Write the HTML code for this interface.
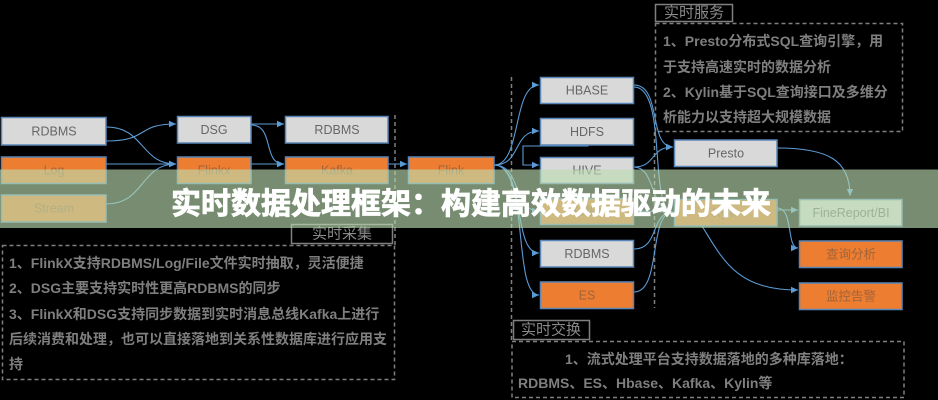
<!DOCTYPE html>
<html><head><meta charset="utf-8"><style>
html,body{margin:0;padding:0;background:#000;width:938px;height:400px;overflow:hidden}
svg{display:block}
text{font-family:"Liberation Sans","Noto Sans CJK SC",sans-serif}
.bx{font-size:12.5px;fill:#666}
.bo{font-size:12.5px;fill:#a0643a}
.d{font-size:14px;font-weight:bold;fill:#7f7f7f}
.lb{font-size:15px;fill:#8a8a8a}
</style></head><body>
<svg width="938" height="400" viewBox="0 0 938 400" xmlns="http://www.w3.org/2000/svg">
<defs>
<marker id="a" markerWidth="8" markerHeight="8" refX="7" refY="4" orient="auto" markerUnits="userSpaceOnUse">
<path d="M0,0.8 L7,4 L0,7.2 Z" fill="#5b9bd5"/></marker>
</defs>
<rect width="938" height="400" fill="#000"/>

<!-- dashed boxes & separators -->
<g fill="none" stroke="#7f7f7f" stroke-width="1.5" stroke-dasharray="4 3">
<rect x="655.5" y="23.5" width="247" height="108"/>
<rect x="2.5" y="245.5" width="392" height="134"/>
<rect x="512" y="341.5" width="392" height="56"/>
<line x1="395" y1="115" x2="395" y2="246"/>
<line x1="511.5" y1="77" x2="511.5" y2="342"/>
<line x1="654.5" y1="132" x2="654.5" y2="308"/>
</g>
<g fill="none" stroke="#7f7f7f" stroke-width="1.5">
<rect x="655.5" y="4.5" width="77" height="17"/>
<rect x="291.5" y="224.5" width="101" height="19"/>
<rect x="513.5" y="320.5" width="76" height="19"/>
</g>
<text class="lb" x="694" y="13" text-anchor="middle" dominant-baseline="central">实时服务</text>
<text class="lb" x="342" y="234" text-anchor="middle" dominant-baseline="central">实时采集</text>
<text class="lb" x="551" y="330" text-anchor="middle" dominant-baseline="central">实时交换</text>

<g class="d" dominant-baseline="central">
<text class="d" x="663" y="41" dominant-baseline="central">1、Presto分布式SQL查询引擎，用</text>
<text class="d" x="663" y="67" dominant-baseline="central">于支持高速实时的数据分析</text>
<text class="d" x="663" y="92" dominant-baseline="central">2、Kylin基于SQL查询接口及多维分</text>
<text class="d" x="663" y="117" dominant-baseline="central">析能力以支持超大规模数据</text>

<text class="d" x="9" y="263" dominant-baseline="central">1、FlinkX支持RDBMS/Log/File文件实时抽取，灵活便捷</text>
<text class="d" x="9" y="288" dominant-baseline="central">2、DSG主要支持实时性更高RDBMS的同步</text>
<text class="d" x="9" y="314" dominant-baseline="central">3、FlinkX和DSG支持同步数据到实时消息总线Kafka上进行</text>
<text class="d" x="9" y="339" dominant-baseline="central">后续消费和处理，也可以直接落地到关系性数据库进行应用支</text>
<text class="d" x="9" y="364" dominant-baseline="central">持</text>

<text class="d" x="565" y="359" dominant-baseline="central">1、流式处理平台支持数据落地的多种库落地：</text>
<text class="d" x="518" y="383" dominant-baseline="central">RDBMS、ES、Hbase、Kafka、Kylin等</text>
</g>

<!-- connectors -->
<g fill="none" stroke="#5b9bd5" stroke-width="1.1">
<path d="M106,127 C145,127 140,164 176,164" marker-end="url(#a)"/>
<path d="M106,141 C150,141 135,124 176,124" marker-end="url(#a)"/>
<path d="M106,164 L176,164" marker-end="url(#a)"/>
<path d="M106,204 C145,204 140,164 176,164" marker-end="url(#a)"/>
<path d="M251,124 L284,124" marker-end="url(#a)"/>
<path d="M251,125 C275,125 262,164 284,164" marker-end="url(#a)"/>
<path d="M251,164 L284,164" marker-end="url(#a)"/>
<path d="M388,164 L407,164" marker-end="url(#a)"/>

<path d="M494,165 C522,165 512,85 539,85" marker-end="url(#a)"/>
<path d="M494,165 C522,165 512,131 539,131" marker-end="url(#a)"/>
<path d="M588,145 L588,146 L523,146 L523,165 L539,165" marker-end="url(#a)"/>
<path d="M494,165 C522,165 512,211 539,211" marker-end="url(#a)"/>
<path d="M494,165 C526,165 512,253 539,253" marker-end="url(#a)"/>
<path d="M494,165 C530,165 512,295 539,295" marker-end="url(#a)"/>

<path d="M634,85 C662,85 648,147 673,147" marker-end="url(#a)"/>
<path d="M634,87 C668,87 648,212 673,212" marker-end="url(#a)"/>
<path d="M634,167 C656,167 650,147 673,147" marker-end="url(#a)"/>
<path d="M634,167 C656,167 650,212 673,212" marker-end="url(#a)"/>
<path d="M634,211 L673,212" marker-end="url(#a)"/>
<path d="M634,249 C660,249 650,212 673,212" marker-end="url(#a)"/>
<path d="M634,292 C662,292 648,212 673,212" marker-end="url(#a)"/>

<path d="M777,148 C828,148 850,160 850,196" marker-end="url(#a)"/>
<path d="M777,210 L798,210" marker-end="url(#a)"/>
<path d="M777,208 C794,208 786,248 798,248" marker-end="url(#a)"/>
<path d="M702,226 C724,262 738,290 798,290" marker-end="url(#a)"/>
</g>

<!-- boxes -->
<g stroke="#5a86b8" stroke-width="1.5">
<rect x="1.5" y="117.5" width="104.5" height="27.5" fill="#d9d9d9"/>
<rect x="1.5" y="157" width="104.5" height="26.5" fill="#ed7d31"/>
<rect x="1.5" y="195" width="104.5" height="27" fill="#ed7d31"/>

<rect x="177.5" y="116.5" width="73.5" height="26.5" fill="#d9d9d9"/>
<rect x="177.5" y="157" width="73.5" height="26.5" fill="#ed7d31"/>

<rect x="285.5" y="116.5" width="102.5" height="26.5" fill="#d9d9d9"/>
<rect x="285.5" y="157" width="102.5" height="26.5" fill="#ed7d31"/>

<rect x="408.5" y="157" width="85.5" height="26.5" fill="#ed7d31"/>

<rect x="540.5" y="77.5" width="93" height="26" fill="#d9d9d9"/>
<rect x="540.5" y="118.5" width="93" height="26.5" fill="#d9d9d9"/>
<rect x="540.5" y="157.5" width="93" height="26" fill="#d9d9d9"/>
<rect x="540.5" y="198.5" width="93" height="26" fill="#ed7d31"/>
<rect x="540.5" y="240.5" width="93" height="26.5" fill="#d9d9d9"/>
<rect x="540.5" y="282" width="93" height="26.5" fill="#ed7d31"/>

<rect x="674.5" y="140" width="102.5" height="26.5" fill="#d9d9d9"/>
<rect x="674.5" y="199.5" width="102.5" height="26.5" fill="#ed7d31"/>

<rect x="799.5" y="199.5" width="102.5" height="26.5" fill="#d9d9d9"/>
<rect x="799.5" y="241" width="102.5" height="26.5" fill="#ed7d31"/>
<rect x="799.5" y="283" width="102.5" height="26.5" fill="#ed7d31"/>
</g>
<g text-anchor="middle" dominant-baseline="central">
<text class="bx" x="54" y="131.5" text-anchor="middle" dominant-baseline="central">RDBMS</text>
<text class="bo" x="54" y="170.5" text-anchor="middle" dominant-baseline="central">Log</text>
<text class="bo" x="54" y="208.5" text-anchor="middle" dominant-baseline="central">Stream</text>
<text class="bx" x="214" y="130" text-anchor="middle" dominant-baseline="central">DSG</text>
<text class="bo" x="214" y="170.5" text-anchor="middle" dominant-baseline="central">Flinkx</text>
<text class="bx" x="337" y="130" text-anchor="middle" dominant-baseline="central">RDBMS</text>
<text class="bo" x="337" y="170.5" text-anchor="middle" dominant-baseline="central">Kafka</text>
<text class="bo" x="451" y="170.5" text-anchor="middle" dominant-baseline="central">Flink</text>
<text class="bx" x="587" y="90.5" text-anchor="middle" dominant-baseline="central">HBASE</text>
<text class="bx" x="587" y="132" text-anchor="middle" dominant-baseline="central">HDFS</text>
<text class="bx" x="587" y="170.5" text-anchor="middle" dominant-baseline="central">HIVE</text>
<text class="bo" x="587" y="211.5" text-anchor="middle" dominant-baseline="central">Kafka</text>
<text class="bx" x="587" y="254" text-anchor="middle" dominant-baseline="central">RDBMS</text>
<text class="bo" x="587" y="295.5" text-anchor="middle" dominant-baseline="central">ES</text>
<text class="bx" x="726" y="153.5" text-anchor="middle" dominant-baseline="central">Presto</text>
<text class="bo" x="726" y="213" text-anchor="middle" dominant-baseline="central">Kylin</text>
<text class="bx" x="851" y="213" text-anchor="middle" dominant-baseline="central">FineReport/BI</text>
<text class="bo" x="851" y="254.5" text-anchor="middle" dominant-baseline="central">查询分析</text>
<text class="bo" x="851" y="296.5" text-anchor="middle" dominant-baseline="central">监控告警</text>
</g>

<!-- banner -->
<rect x="0" y="169.5" width="938" height="58.5" fill="rgb(187,220,176)" fill-opacity="0.637"/>
<text x="171" y="201" font-size="30" font-weight="bold" fill="#fff" stroke="#fff" stroke-width="0.8" dominant-baseline="central" style="font-family:'Noto Sans CJK SC','WenQuanYi Zen Hei',sans-serif">实时数据处理框架：构建高效数据驱动的未来</text>
</svg>
</body></html>
